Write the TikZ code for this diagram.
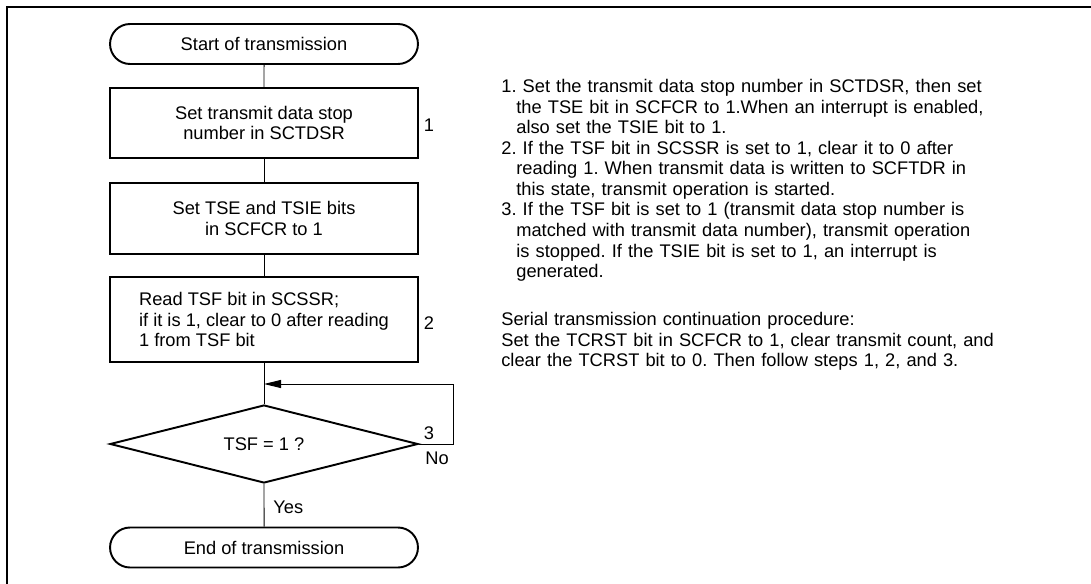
\documentclass[tikz,border=0pt]{standalone}
\usepackage{fontspec}
\setmainfont{Liberation Sans}
\usetikzlibrary{shapes.geometric, shapes.misc, arrows.meta}
\tikzstyle{term}=[rounded rectangle, draw, line width=1.1pt, minimum width=6.16cm, minimum height=0.8cm, inner sep=0]
\tikzstyle{proc}=[rectangle, draw, line width=1.1pt, minimum width=6.16cm, align=center]
\tikzstyle{dec}=[diamond, draw, line width=1.1pt, minimum width=6.16cm, minimum height=1.56cm, aspect=4, inner sep=0]
\tikzstyle{lnk}=[line width=0.55pt]
\tikzstyle{arr}=[lnk, -{Triangle[length=0.34cm, width=0.16cm]}]
\tikzstyle{txt}=[inner sep=0, anchor=north west, text width=11cm, align=left]
\newcommand{\ind}{\hspace*{0.3cm}}

\begin{document}
\begin{tikzpicture}[x=0.02cm, y=-0.02cm, every node/.style={font=\fontsize{10.4}{11.7}\selectfont\frenchspacing}]
\useasboundingbox (0,0) rectangle (1091,584);
% frame
\draw[line width=1.3pt] (7,584) -- (7,7) -- (1091,7);
% flow
\node[term] (start) at (264,44) {Start of transmission};
\node[proc, minimum height=1.4cm] (b1) at (264,123) {Set transmit data stop\\number in SCTDSR};
\node[proc, minimum height=1.42cm] (b2) at (264,218.5) {Set TSE and TSIE bits\\in SCFCR to 1};
\node[proc, minimum height=1.7cm, align=left] (b3) at (264,319.5) {Read TSF bit in SCSSR;\\if it is 1, clear to 0 after reading\\1 from TSF bit};
\node[dec] (tsf) at (264,444) {TSF = 1 ?};
\node[term] (end) at (264,547.5) {End of transmission};
\coordinate (join) at (264,384);
\coordinate (loop) at (453,384);
\draw[lnk] (start) -- (b1);
\draw[lnk] (b1) -- (b2);
\draw[lnk] (b2) -- (b3);
\draw[lnk] (b3) -- (tsf);
\draw[lnk] (tsf) -- (end);
\draw[arr] (tsf.east) -| (loop) -- (join);
% labels
\node (s1) at (429,125) {1};
\node (s2) at (429,323) {2};
\node (s3) at (429,433) {3};
\node (no) at (437,458) {No};
\node[anchor=west, inner sep=0] (yes) at (273,507) {Yes};
% notes
\node[txt] (steps) at (501,79) {%
1. Set the transmit data stop number in SCTDSR, then set\\
\ind the TSE bit in SCFCR to 1.When an interrupt is enabled,\\
\ind also set the TSIE bit to 1.\\
2. If the TSF bit in SCSSR is set to 1, clear it to 0 after\\
\ind reading 1. When transmit data is written to SCFTDR in\\
\ind this state, transmit operation is started.\\
3. If the TSF bit is set to 1 (transmit data stop number is\\
\ind matched with transmit data number), transmit operation\\
\ind is stopped. If the TSIE bit is set to 1, an interrupt is\\
\ind generated.};
\node[txt] (cont) at (501,312) {Serial transmission continuation procedure:\\
Set the TCRST bit in SCFCR to 1, clear transmit count, and\\
clear the TCRST bit to 0. Then follow steps 1, 2, and 3.};
\end{tikzpicture}
\end{document}
